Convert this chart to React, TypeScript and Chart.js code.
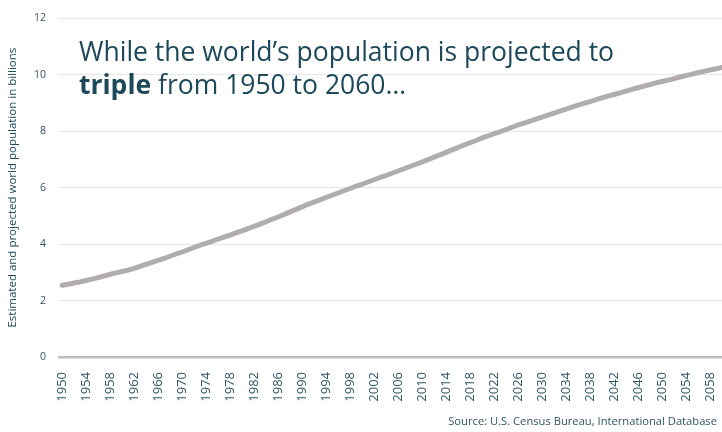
import React, { useEffect, useRef } from "react";
import { Chart, registerables } from "chart.js";

Chart.register(...registerables);

const YEARS = [
  1950, 1951, 1952, 1953, 1954, 1955, 1956, 1957, 1958, 1959,
  1960, 1961, 1962, 1963, 1964, 1965, 1966, 1967, 1968, 1969,
  1970, 1971, 1972, 1973, 1974, 1975, 1976, 1977, 1978, 1979,
  1980, 1981, 1982, 1983, 1984, 1985, 1986, 1987, 1988, 1989,
  1990, 1991, 1992, 1993, 1994, 1995, 1996, 1997, 1998, 1999,
  2000, 2001, 2002, 2003, 2004, 2005, 2006, 2007, 2008, 2009,
  2010, 2011, 2012, 2013, 2014, 2015, 2016, 2017, 2018, 2019,
  2020, 2021, 2022, 2023, 2024, 2025, 2026, 2027, 2028, 2029,
  2030, 2031, 2032, 2033, 2034, 2035, 2036, 2037, 2038, 2039,
  2040, 2041, 2042, 2043, 2044, 2045, 2046, 2047, 2048, 2049,
  2050, 2051, 2052, 2053, 2054, 2055, 2056, 2057, 2058, 2059,
  2060,
];

// World population, billions (estimated / projected)
const POPULATION = [
  2.54, 2.58, 2.62, 2.66, 2.71, 2.76, 2.81, 2.87, 2.93, 2.98,
  3.03, 3.08, 3.14, 3.21, 3.28, 3.35, 3.42, 3.49, 3.57, 3.65,
  3.72, 3.80, 3.88, 3.96, 4.03, 4.10, 4.18, 4.25, 4.32, 4.40,
  4.47, 4.55, 4.63, 4.71, 4.79, 4.88, 4.96, 5.05, 5.14, 5.23,
  5.32, 5.41, 5.49, 5.57, 5.65, 5.73, 5.81, 5.89, 5.97, 6.05,
  6.12, 6.20, 6.28, 6.36, 6.43, 6.51, 6.59, 6.67, 6.75, 6.83,
  6.91, 6.99, 7.08, 7.16, 7.25, 7.34, 7.42, 7.51, 7.59, 7.67,
  7.76, 7.83, 7.91, 7.98, 8.06, 8.14, 8.22, 8.29, 8.36, 8.43,
  8.50, 8.57, 8.64, 8.71, 8.78, 8.85, 8.92, 8.99, 9.05, 9.12,
  9.18, 9.24, 9.30, 9.36, 9.42, 9.48, 9.54, 9.60, 9.65, 9.71,
  9.76, 9.81, 9.86, 9.92, 9.97, 10.02, 10.07, 10.12, 10.17, 10.21,
  10.26,
];

const X_TICK_LABELS = [
  "1950", "1954", "1958", "1962", "1966", "1970", "1974", "1978",
  "1982", "1986", "1990", "1994", "1998", "2002", "2006", "2010",
  "2014", "2018", "2022", "2026", "2030", "2034", "2038", "2042",
  "2046", "2050", "2054", "2058",
];

const Y_MIN = 0;
const Y_MAX = 12;
const Y_STEP = 2;

const Y_TITLE = "Estimated and projected world population in billions";
const SOURCE = "Source: U.S. Census Bureau, International Database";

const TEXT_COLOR = "#1c4859";
const TICK_COLOR = "#2f5565";

export default function App() {
  const ref = useRef<HTMLCanvasElement | null>(null);

  useEffect(() => {
    if (!ref.current) return;
    Chart.defaults.font.family = "'Open Sans', sans-serif";
    const chart = new Chart(ref.current, {
      type: "line",
      data: {
        labels: YEARS.map(String),
        datasets: [
          {
            data: POPULATION,
            borderColor: "#b2adad",
            borderWidth: 5,
            pointRadius: 0,
            tension: 0,
            fill: false,
            borderCapStyle: "round",
            borderJoinStyle: "round",
          },
        ],
      },
      options: {
        animation: false,
        responsive: false,
        maintainAspectRatio: false,
        layout: { padding: { top: 10, right: 0, left: 0, bottom: 0 } },
        plugins: {
          legend: { display: false },
          tooltip: { enabled: false },
        },
        scales: {
          x: {
            grid: { display: false },
            border: { display: false },
            ticks: {
              autoSkip: false,
              maxRotation: 90,
              minRotation: 90,
              padding: 7,
              color: TICK_COLOR,
              font: { size: 13 },
              callback: (_v: any, i: number) => {
                const l = String(YEARS[i]);
                return X_TICK_LABELS.includes(l) ? l : "";
              },
            },
            afterFit: (s: any) => {
              s.height = 75;
              s.paddingLeft = 0;
              s.paddingRight = 0;
            },
          },
          y: {
            min: Y_MIN,
            max: Y_MAX,
            ticks: {
              stepSize: Y_STEP,
              padding: 12,
              color: TICK_COLOR,
              font: { size: 10.5 },
            },
            grid: {
              color: (ctx: any) => (ctx.tick && ctx.tick.value === 0 ? "#bdbdbd" : "#e6e6e6"),
              lineWidth: (ctx: any) => (ctx.tick && ctx.tick.value === 0 ? 2.5 : 1),
              tickLength: 4,
            },
            border: { display: false },
            title: {
              display: true,
              text: Y_TITLE,
              color: TEXT_COLOR,
              font: { size: 11.5 },
              padding: { top: 6, bottom: 4 },
            },
            afterFit: (s: any) => {
              s.width = 62;
            },
          },
        },
      },
    });
    return () => chart.destroy();
  }, []);

  return (
    <div
      style={{
        position: "fixed",
        left: 0,
        top: 0,
        width: 722,
        height: 432,
        background: "#fff",
        fontFamily: "'Open Sans', sans-serif",
      }}
    >
      <canvas ref={ref} width={722} height={432} style={{ position: "absolute", left: 0, top: 0 }} />
      <div
        style={{
          position: "absolute",
          left: 79,
          top: 35,
          fontSize: 26.5,
          lineHeight: "33px",
          color: TEXT_COLOR,
          whiteSpace: "nowrap",
        }}
      >
        While the world’s population is projected to
        <br />
        <b>triple</b> from 1950 to 2060…
      </div>
      <div
        style={{
          position: "absolute",
          right: 5,
          top: 414,
          fontSize: 11.2,
          lineHeight: "13px",
          color: TICK_COLOR,
          whiteSpace: "nowrap",
        }}
      >
        {SOURCE}
      </div>
    </div>
  );
}
